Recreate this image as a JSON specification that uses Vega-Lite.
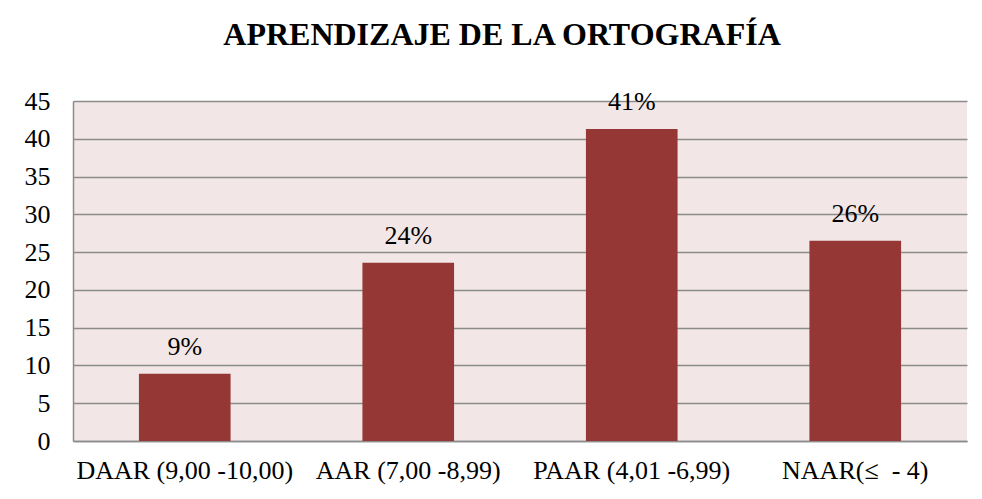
{
  "$schema": "https://vega.github.io/schema/vega-lite/v6.json",
  "width": 894,
  "height": 340,
  "autosize": {"type": "none"},
  "padding": {"left": 73, "top": 101, "right": 15, "bottom": 58},
  "background": "white",
  "title": {
    "text": "APRENDIZAJE DE LA ORTOGRAFÍA",
    "font": "Times New Roman, Liberation Serif, serif",
    "fontSize": 32,
    "fontWeight": "bold",
    "color": "black",
    "anchor": "middle",
    "offset": 36,
    "dx": -18
  },
  "config": {
    "view": {"stroke": null, "fill": "#f2e6e6"}
  },
  "data": {
    "values": [
      {"categoria": "DAAR (9,00 -10,00)", "valor": 8.9, "etiqueta": "9%"},
      {"categoria": "AAR (7,00 -8,99)", "valor": 23.6, "etiqueta": "24%"},
      {"categoria": "PAAR (4,01 -6,99)", "valor": 41.3, "etiqueta": "41%"},
      {"categoria": "NAAR(≤\u00a0 - 4)", "valor": 26.5, "etiqueta": "26%"}
    ]
  },
  "encoding": {
    "x": {
      "field": "categoria",
      "type": "nominal",
      "sort": null,
      "scale": {"paddingInner": 0.59, "paddingOuter": 0.295},
      "axis": {
        "title": null,
        "labelAngle": 0,
        "labelFont": "Times New Roman, Liberation Serif, serif",
        "labelFontSize": 26,
        "labelColor": "black",
        "labelPadding": 16,
        "labelLimit": 400,
        "labelOverlap": false,
        "ticks": false,
        "domain": true,
        "domainColor": "#8c8c8c",
        "domainWidth": 1.5
      }
    },
    "y": {
      "field": "valor",
      "type": "quantitative",
      "scale": {"domain": [0, 45], "nice": false},
      "axis": {
        "title": null,
        "values": [0, 5, 10, 15, 20, 25, 30, 35, 40, 45],
        "labelFont": "Times New Roman, Liberation Serif, serif",
        "labelFontSize": 26,
        "labelColor": "black",
        "labelPadding": 23,
        "ticks": false,
        "grid": true,
        "gridColor": "#8c8c8c",
        "gridWidth": 1.5,
        "domain": true,
        "domainColor": "#8c8c8c",
        "domainWidth": 1.5
      }
    }
  },
  "layer": [
    {"mark": {"type": "bar", "color": "#953735"}},
    {
      "mark": {
        "type": "text",
        "baseline": "bottom",
        "dy": -14,
        "font": "Times New Roman, Liberation Serif, serif",
        "fontSize": 26,
        "color": "black"
      },
      "encoding": {"text": {"field": "etiqueta"}}
    }
  ]
}
